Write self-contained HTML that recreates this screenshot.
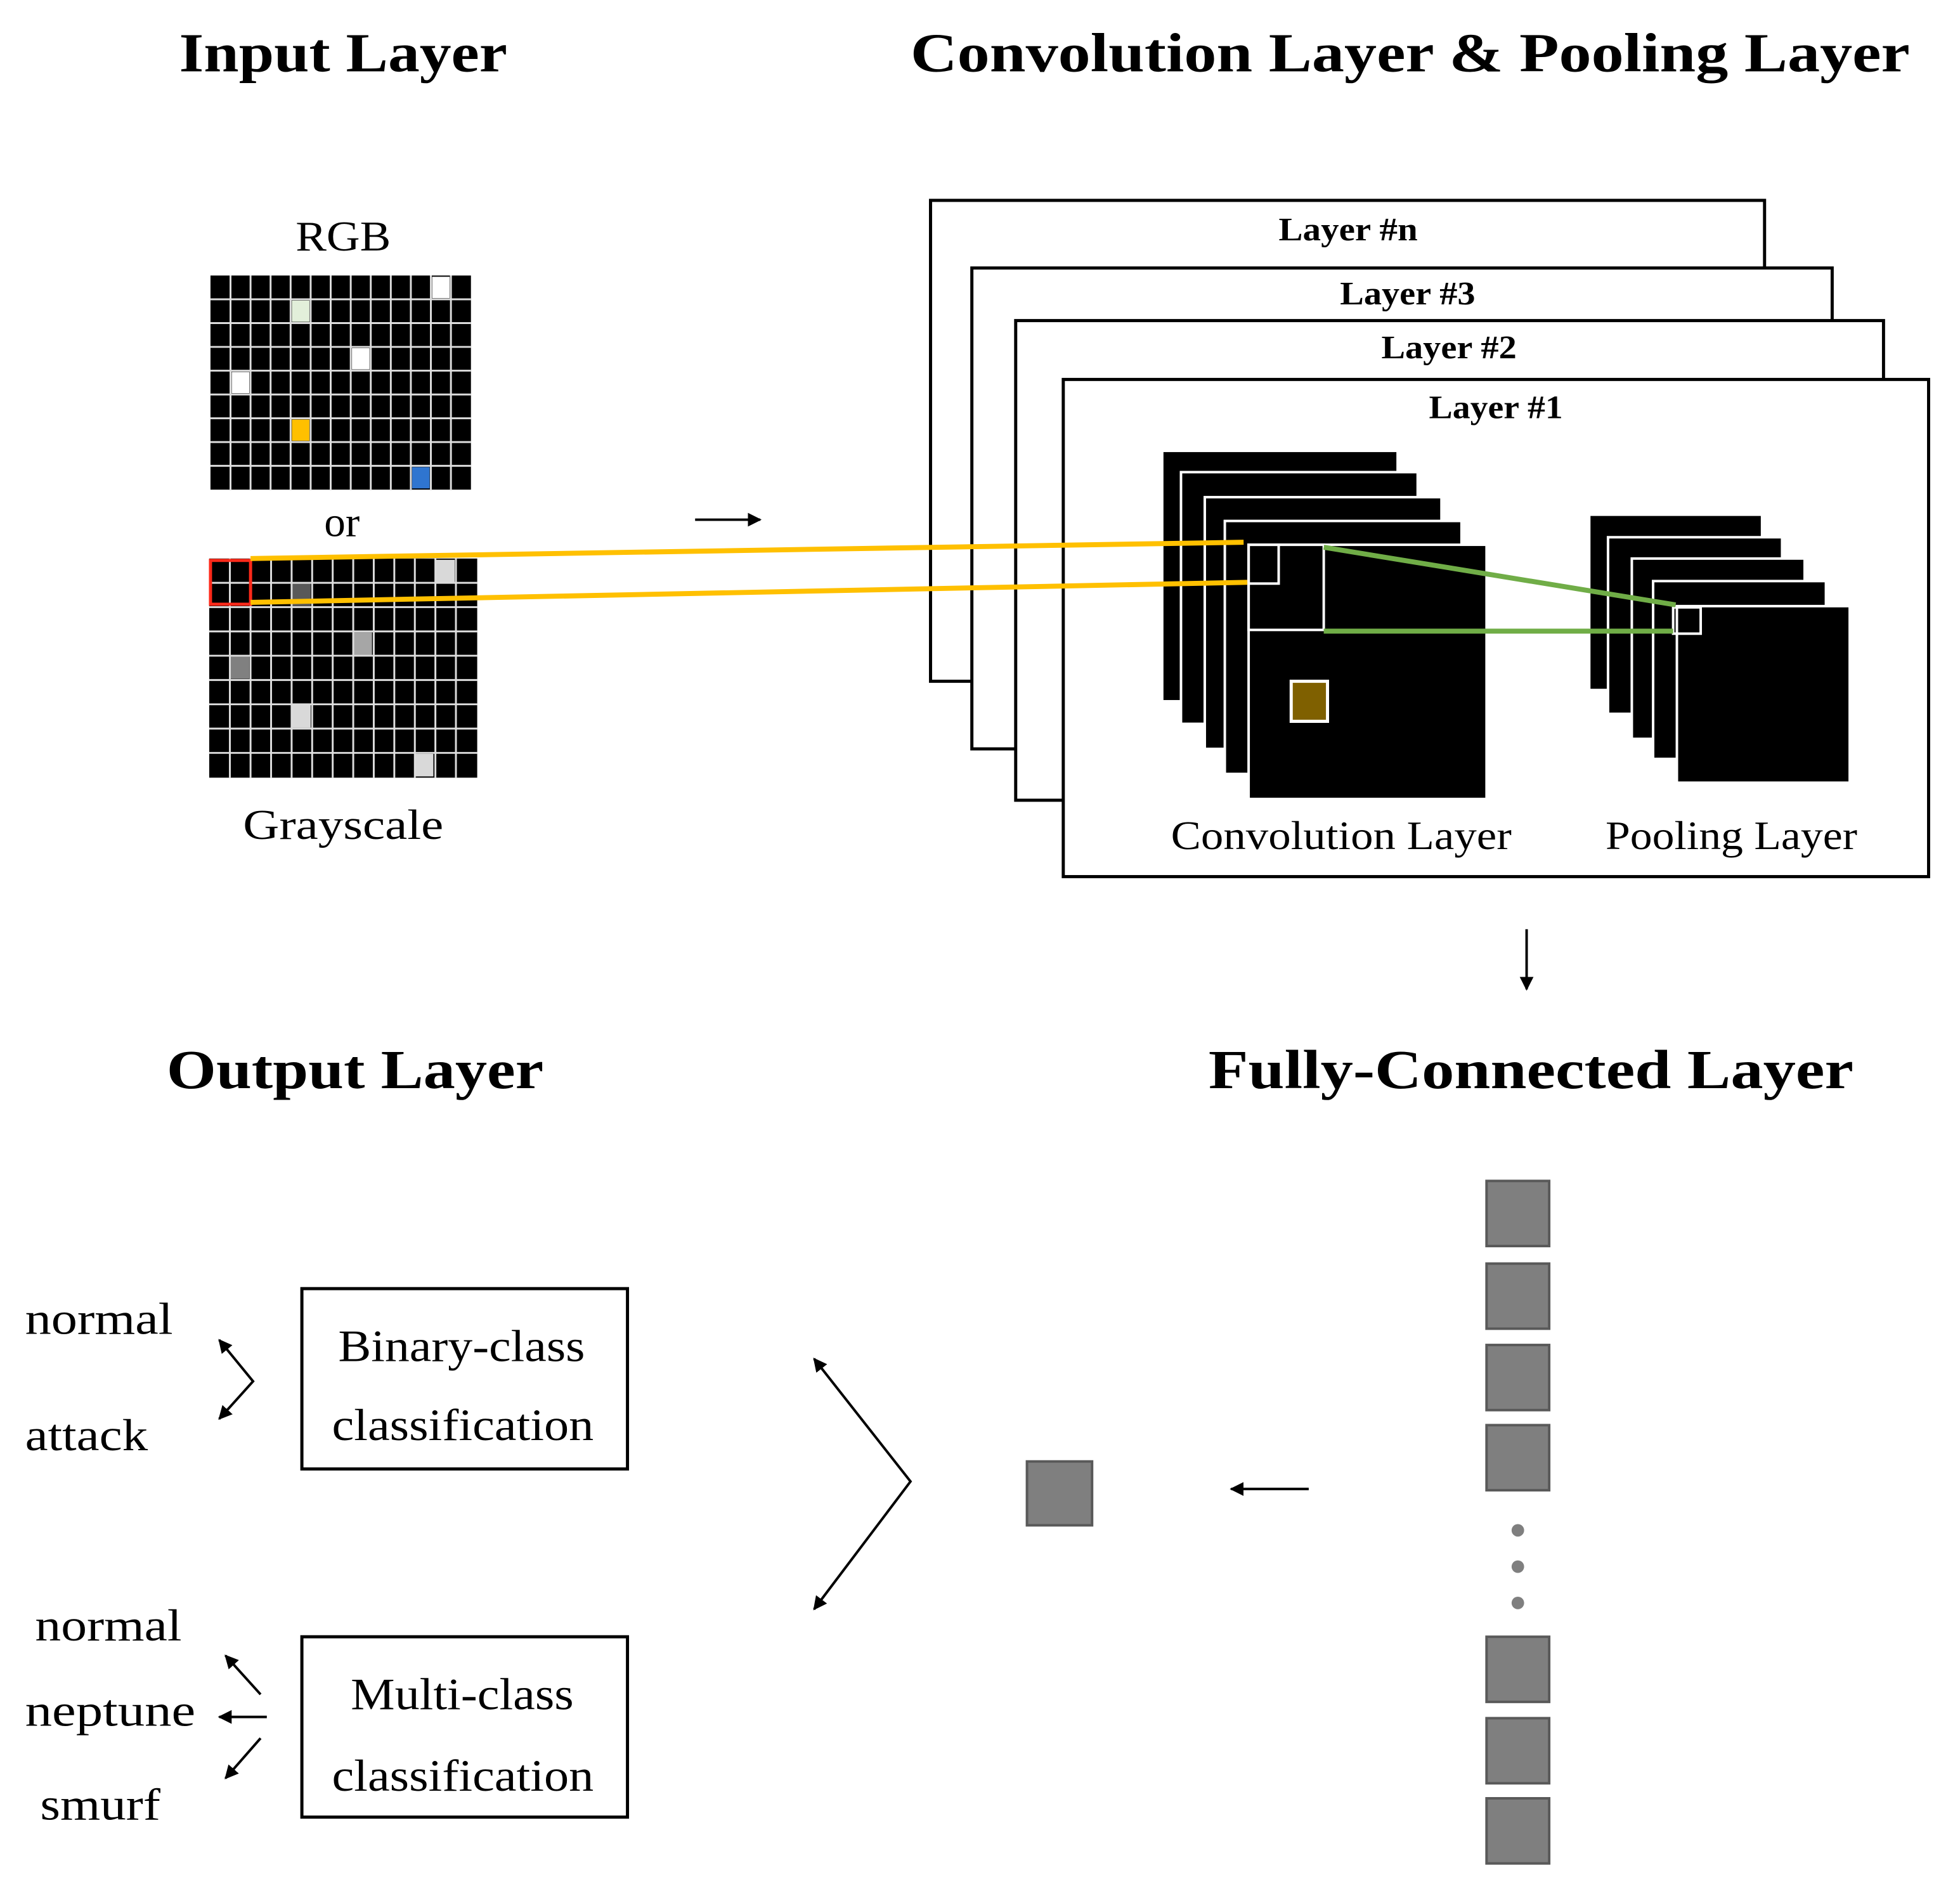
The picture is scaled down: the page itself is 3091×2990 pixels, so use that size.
<!DOCTYPE html>
<html><head><meta charset="utf-8"><style>html,body{margin:0;padding:0;background:#fff}svg{display:block}</style></head><body>
<svg width="3091" height="2990" viewBox="0 0 1565 1514" xmlns="http://www.w3.org/2000/svg" font-family="Liberation Serif, serif">
<defs>
<marker id="ah" viewBox="0 0 10 10" refX="9" refY="5" markerWidth="5.5" markerHeight="5.5" orient="auto-start-reverse"><path d="M0,0 L10,5 L0,10 z" fill="#000"/></marker>
</defs>
<rect width="1565" height="1514" fill="#fff"/>
<g font-weight="bold" font-size="44" fill="#000">
<text x="143" y="57" textLength="262" lengthAdjust="spacingAndGlyphs">Input Layer</text>
<text x="727" y="57" textLength="798" lengthAdjust="spacingAndGlyphs">Convolution Layer &amp; Pooling Layer</text>
<text x="133" y="869" textLength="301" lengthAdjust="spacingAndGlyphs">Output Layer</text>
<text x="965" y="869" textLength="515" lengthAdjust="spacingAndGlyphs">Fully-Connected Layer</text>
</g>
<g font-size="34">
<text x="236" y="200" textLength="76" lengthAdjust="spacingAndGlyphs">RGB</text>
<text x="273" y="428" text-anchor="middle">or</text>
<text x="194" y="670" textLength="160" lengthAdjust="spacingAndGlyphs">Grayscale</text>
</g>
<rect x="168" y="220" width="208" height="171" fill="#000"/>
<rect x="345" y="221" width="14" height="17" fill="#fff"/>
<rect x="233" y="240" width="14" height="17" fill="#e2efda"/>
<rect x="281" y="278" width="14" height="17" fill="#fff"/>
<rect x="185" y="297" width="14" height="17" fill="#fff"/>
<rect x="233" y="335" width="14" height="17" fill="#ffc000"/>
<rect x="329" y="373" width="14" height="17" fill="#2f75d0"/>
<g stroke="#ddd" stroke-width="1.5">
<path d="M184,220V391M200,220V391M216,220V391M232,220V391M248,220V391M264,220V391M280,220V391M296,220V391M312,220V391M328,220V391M344,220V391M360,220V391"/>
<path d="M168,239H376M168,258H376M168,277H376M168,296H376M168,315H376M168,334H376M168,353H376M168,372H376"/>
</g>
<rect x="167" y="446" width="214" height="175" fill="#000"/>
<rect x="348" y="447" width="15" height="18" fill="#d9d9d9"/>
<rect x="233" y="466" width="15" height="18" fill="#595959"/>
<rect x="282" y="505" width="15" height="18" fill="#a6a6a6"/>
<rect x="184" y="524" width="15" height="18" fill="#808080"/>
<rect x="233" y="563" width="15" height="18" fill="#d9d9d9"/>
<rect x="331" y="602" width="15" height="18" fill="#d9d9d9"/>
<g stroke="#ddd" stroke-width="1.5">
<path d="M183.5,446V621M200,446V621M216.4,446V621M232.8,446V621M249.2,446V621M265.6,446V621M282,446V621M298.4,446V621M314.8,446V621M331.2,446V621M347.6,446V621M364,446V621"/>
<path d="M167,465.4H381M167,484.8H381M167,504.2H381M167,523.6H381M167,543H381M167,562.4H381M167,581.8H381M167,601.2H381"/>
</g>
<rect x="168" y="447.5" width="32" height="35" fill="none" stroke="#ff2a1a" stroke-width="2.5"/>
<line x1="555" y1="415" x2="607" y2="415" stroke="#000" stroke-width="2" marker-end="url(#ah)"/>
<line x1="1219" y1="742" x2="1219" y2="790" stroke="#000" stroke-width="2" marker-end="url(#ah)"/>
<g fill="#fff" stroke="#000" stroke-width="2.5">
<rect x="743" y="160" width="666" height="384"/>
<rect x="776" y="214" width="687" height="384"/>
<rect x="811" y="256" width="693" height="383"/>
<rect x="849" y="303" width="691" height="397"/>
</g>
<g font-weight="bold" font-size="26">
<text x="1021" y="192" textLength="111" lengthAdjust="spacingAndGlyphs">Layer #n</text>
<text x="1070" y="243" textLength="108" lengthAdjust="spacingAndGlyphs">Layer #3</text>
<text x="1103" y="286" textLength="108" lengthAdjust="spacingAndGlyphs">Layer #2</text>
<text x="1141" y="334" textLength="107" lengthAdjust="spacingAndGlyphs">Layer #1</text>
</g>
<g fill="#000" stroke="#fff" stroke-width="2">
<rect x="928" y="360" width="188" height="200"/>
<rect x="943" y="377" width="189" height="201"/>
<rect x="962" y="397" width="189" height="201"/>
<rect x="978" y="416" width="189" height="202"/>
<rect x="997" y="435" width="190" height="203"/>
</g>
<g fill="none" stroke="#fff" stroke-width="2">
<rect x="997" y="435" width="60" height="68"/>
<rect x="997" y="435" width="24" height="31"/>
</g>
<rect x="1031" y="544" width="29" height="32" fill="#7f6000" stroke="#fff" stroke-width="2.5"/>
<g stroke="#ffc000" stroke-width="4">
<line x1="200" y1="446" x2="993" y2="433"/>
<line x1="200" y1="481" x2="996" y2="465"/>
</g>
<g fill="#000" stroke="#fff" stroke-width="2">
<rect x="1269" y="411" width="138" height="140"/>
<rect x="1284" y="429" width="139" height="141"/>
<rect x="1303" y="446" width="138" height="144"/>
<rect x="1320" y="464" width="138" height="142"/>
<rect x="1339" y="484" width="138" height="141"/>
</g>
<rect x="1336" y="485" width="22" height="21" fill="none" stroke="#fff" stroke-width="2"/>
<g stroke="#70ad47" stroke-width="4">
<line x1="1057" y1="437" x2="1338" y2="483"/>
<line x1="1057" y1="504" x2="1336" y2="504"/>
</g>
<g font-size="32">
<text x="935" y="678" textLength="272" lengthAdjust="spacingAndGlyphs">Convolution Layer</text>
<text x="1282" y="678" textLength="201" lengthAdjust="spacingAndGlyphs">Pooling Layer</text>
</g>
<g font-size="36">
<text x="20" y="1065" textLength="118" lengthAdjust="spacingAndGlyphs">normal</text>
<text x="20" y="1158" textLength="98" lengthAdjust="spacingAndGlyphs">attack</text>
<text x="28" y="1310" textLength="117" lengthAdjust="spacingAndGlyphs">normal</text>
<text x="20" y="1378" textLength="136" lengthAdjust="spacingAndGlyphs">neptune</text>
<text x="32" y="1453" textLength="96" lengthAdjust="spacingAndGlyphs">smurf</text>
</g>
<g fill="none" stroke="#000" stroke-width="2">
<polyline points="175,1070 202,1103 175,1133" marker-start="url(#ah)" marker-end="url(#ah)"/>
<line x1="208" y1="1353" x2="180" y2="1322" marker-end="url(#ah)"/>
<line x1="213" y1="1371" x2="175" y2="1371" marker-end="url(#ah)"/>
<line x1="208" y1="1388" x2="180" y2="1420" marker-end="url(#ah)"/>
<polyline points="650,1085 727,1183 650,1285" marker-start="url(#ah)" marker-end="url(#ah)"/>
<line x1="1045" y1="1189" x2="983" y2="1189" marker-end="url(#ah)"/>
</g>
<g fill="#fff" stroke="#000" stroke-width="2.5">
<rect x="241" y="1029" width="260" height="144"/>
<rect x="241" y="1307" width="260" height="144"/>
</g>
<g font-size="36">
<text x="270" y="1087" textLength="197" lengthAdjust="spacingAndGlyphs">Binary-class</text>
<text x="265" y="1150" textLength="209" lengthAdjust="spacingAndGlyphs">classification</text>
<text x="280" y="1365" textLength="178" lengthAdjust="spacingAndGlyphs">Multi-class</text>
<text x="265" y="1430" textLength="209" lengthAdjust="spacingAndGlyphs">classification</text>
</g>
<g fill="#7f7f7f" stroke="#595959" stroke-width="2">
<rect x="820" y="1167" width="52" height="51"/>
<rect x="1187" y="943" width="50" height="52"/>
<rect x="1187" y="1009" width="50" height="52"/>
<rect x="1187" y="1074" width="50" height="52"/>
<rect x="1187" y="1138" width="50" height="52"/>
<rect x="1187" y="1307" width="50" height="52"/>
<rect x="1187" y="1372" width="50" height="52"/>
<rect x="1187" y="1436" width="50" height="52"/>
</g>
<g fill="#7f7f7f">
<circle cx="1212" cy="1222" r="5"/>
<circle cx="1212" cy="1251" r="5"/>
<circle cx="1212" cy="1280" r="5"/>
</g>
</svg>
</body></html>
